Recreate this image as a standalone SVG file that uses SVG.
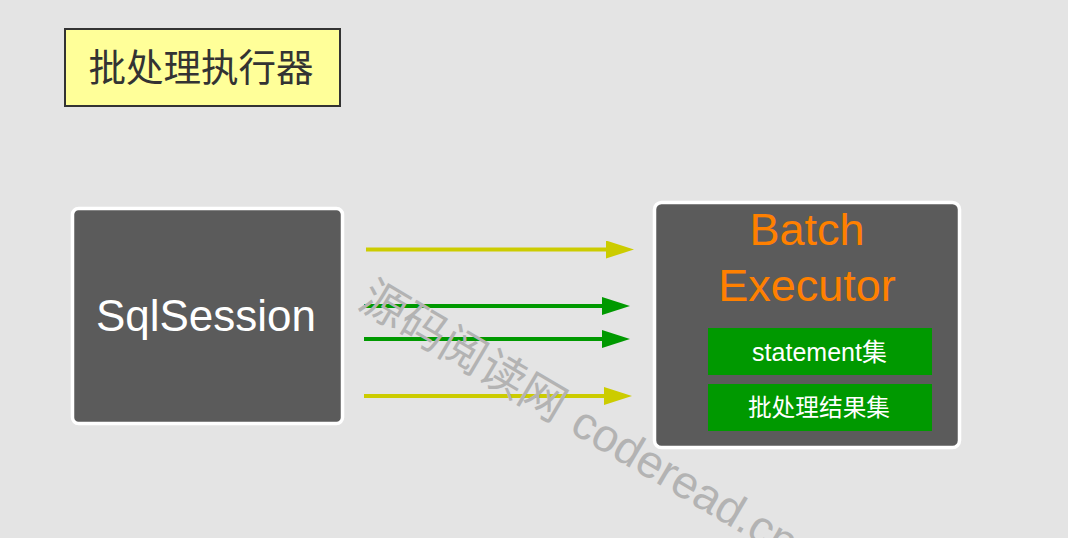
<svg xmlns="http://www.w3.org/2000/svg" width="1068" height="538" viewBox="0 0 1068 538">
<style>
.cjk{font-family:"Liberation Sans","Noto Sans CJK SC",sans-serif}
.dark{fill:#5b5b5b;stroke:#ffffff;stroke-width:3.5}
.sub{fill:#009900}
.subtxt{fill:#ffffff;text-anchor:middle}
.ay{stroke:#cccc00;stroke-width:4;fill:none}
.ag{stroke:#009900;stroke-width:4;fill:none}
</style>
<defs>
<marker id="hy" markerUnits="userSpaceOnUse" markerWidth="28" markerHeight="18" viewBox="0 0 28 18" refX="1" refY="9" orient="auto"><path d="M0,0 L28,9 L0,18 z" fill="#cccc00"/></marker>
<marker id="hg" markerUnits="userSpaceOnUse" markerWidth="28" markerHeight="18" viewBox="0 0 28 18" refX="1" refY="9" orient="auto"><path d="M0,0 L28,9 L0,18 z" fill="#009900"/></marker>
</defs>
<rect x="0" y="0" width="1068" height="538" fill="#e4e4e4"/>
<g id="title">
<rect x="65" y="29" width="275" height="77" fill="#ffff99" stroke="#333333" stroke-width="2"/>
<text x="201" y="81" class="cjk" font-size="37.5" fill="#333333" text-anchor="middle">批处理执行器</text>
</g>
<g id="sqlsession">
<rect x="72.5" y="208.5" width="270" height="215" rx="6" class="dark"/>
<text x="206" y="331" font-family="Liberation Sans, Arial, sans-serif" font-size="44" fill="#ffffff" text-anchor="middle">SqlSession</text>
</g>
<g id="batchexecutor">
<rect x="654.5" y="202.5" width="305" height="245" rx="7" class="dark"/>
<text x="807" y="245" font-family="Liberation Sans, Arial, sans-serif" font-size="45" fill="#ff8000" text-anchor="middle">Batch</text>
<text x="807" y="301" font-family="Liberation Sans, Arial, sans-serif" font-size="45" fill="#ff8000" text-anchor="middle">Executor</text>
</g>
<g id="statements">
<rect x="708" y="328" width="224" height="47" class="sub"/>
<text x="819.5" y="361" class="cjk subtxt" font-size="25">statement集</text>
</g>
<g id="results">
<rect x="708" y="384" width="224" height="47" class="sub"/>
<text x="819" y="416" class="cjk subtxt" font-size="23.7">批处理结果集</text>
</g>
<g id="connectors">
<line x1="366" y1="249.5" x2="607" y2="249.5" class="ay" marker-end="url(#hy)"/>
<line x1="364" y1="306" x2="603" y2="306" class="ag" marker-end="url(#hg)"/>
<line x1="364" y1="339" x2="603" y2="339" class="ag" marker-end="url(#hg)"/>
<line x1="364" y1="396" x2="605" y2="396" class="ay" marker-end="url(#hy)"/>
</g>
<text x="356.3" y="306.4" transform="rotate(30.5 356.3 306.4)" font-size="46" fill="#b3b3b3"><tspan font-family="Noto Sans CJK SC, sans-serif">源码阅读网</tspan><tspan font-family="Liberation Sans, Arial, sans-serif" dx="16">coderead.cn</tspan></text>
</svg>
